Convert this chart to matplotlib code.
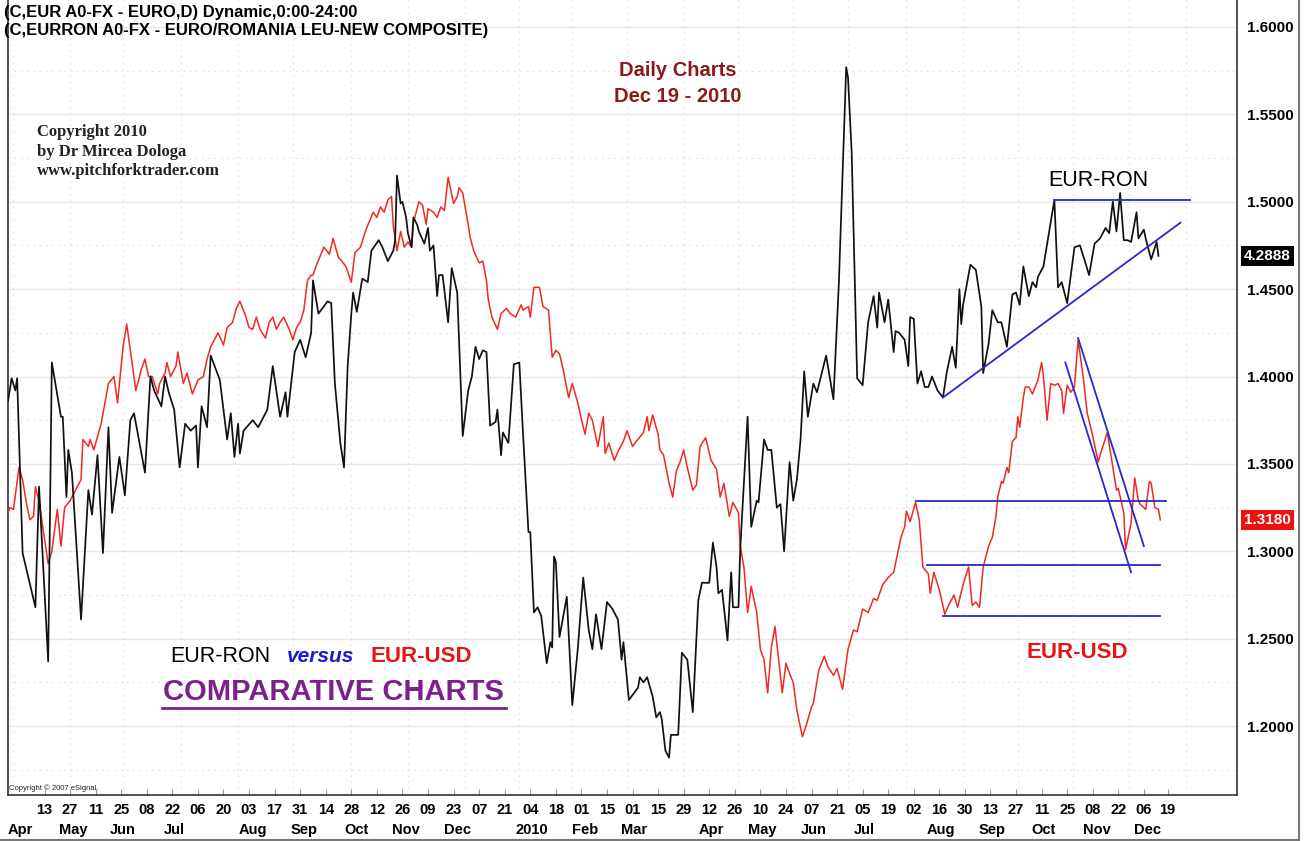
import datetime
import matplotlib
matplotlib.use('Agg')
import matplotlib.pyplot as plt
import matplotlib.transforms as mtransforms
from matplotlib.lines import Line2D

plt.rcParams['font.family'] = ['Liberation Sans', 'DejaVu Sans']

# day offsets counted from Mon 13 Apr 2009
START = datetime.date(2009, 4, 13)

# EUR-RON overlay, drawn on the EUR-USD price scale
ron_days = [-20, -18, -16, -15, -12, -5, -3, 2, 4, 9, 10, 12, 13, 15, 20, 24, 26, 29, 32, 35,
            37, 41, 44, 47, 49, 55, 58, 60, 64, 66, 68, 71, 74, 77, 80, 83, 84, 86, 89, 91,
            96, 100, 102, 104, 106, 107, 109, 114, 117, 122, 125, 129, 132, 133, 137, 140, 143, 146, 147, 150,
            155, 157, 159, 162, 164, 166, 168, 169, 171, 174, 177, 179, 183, 185, 188, 191, 192, 193, 195, 196,
            198, 199, 201, 202, 204, 205, 208, 210, 211, 213, 215, 216, 218, 221, 223, 226, 229, 232, 234, 236,
            238, 240, 242, 244, 247, 248, 250, 251, 254, 257, 260, 262, 265, 266, 268, 270, 272, 275, 277, 278,
            279, 280, 282, 286, 289, 292, 295, 298, 300, 302, 305, 308, 311, 314, 316, 317, 320, 325, 326, 328,
            330, 333, 335, 337, 338, 340, 342, 343, 347, 349, 352, 355, 358, 360, 364, 366, 368, 369, 371, 374,
            376, 377, 380, 381, 385, 387, 390, 391, 394, 396, 398, 401, 403, 405, 408, 410, 412, 414, 416, 418,
            421, 423, 428, 432, 435, 439, 440, 442, 445, 448, 451, 454, 456, 457, 460, 462, 465, 466, 468, 471,
            473, 474, 476, 478, 480, 482, 484, 486, 489, 492, 494, 497, 499, 501, 502, 503, 507, 510, 513, 514,
            517, 519, 522, 524, 527, 530, 532, 534, 536, 539, 541, 543, 544, 547, 553, 555, 557, 560, 564, 567,
            570, 572, 575, 578, 581, 583, 585, 587, 589, 591, 593, 595, 598, 599, 602, 603, 606, 609, 610]
ron_vals = [1.386, 1.399, 1.392, 1.399, 1.299, 1.268, 1.337, 1.237, 1.408, 1.377, 1.377, 1.331, 1.358, 1.345, 1.261, 1.335, 1.321, 1.355, 1.299, 1.371,
            1.322, 1.354, 1.332, 1.375, 1.379, 1.345, 1.400, 1.392, 1.383, 1.400, 1.391, 1.381, 1.348, 1.373, 1.369, 1.372, 1.348, 1.383, 1.371, 1.412,
            1.398, 1.364, 1.379, 1.354, 1.373, 1.356, 1.369, 1.375, 1.371, 1.381, 1.406, 1.377, 1.391, 1.377, 1.414, 1.421, 1.411, 1.425, 1.455, 1.436,
            1.443, 1.442, 1.396, 1.362, 1.348, 1.406, 1.436, 1.448, 1.437, 1.456, 1.454, 1.472, 1.478, 1.474, 1.466, 1.472, 1.478, 1.515, 1.499, 1.500,
            1.491, 1.482, 1.474, 1.491, 1.487, 1.483, 1.476, 1.485, 1.472, 1.475, 1.446, 1.458, 1.458, 1.431, 1.462, 1.448, 1.366, 1.392, 1.400, 1.417,
            1.410, 1.415, 1.414, 1.372, 1.374, 1.381, 1.355, 1.368, 1.362, 1.407, 1.408, 1.368, 1.311, 1.311, 1.265, 1.268, 1.263, 1.236, 1.248, 1.245,
            1.297, 1.294, 1.251, 1.274, 1.212, 1.244, 1.285, 1.255, 1.244, 1.264, 1.244, 1.271, 1.267, 1.261, 1.238, 1.248, 1.215, 1.222, 1.228, 1.225,
            1.228, 1.217, 1.205, 1.208, 1.204, 1.186, 1.182, 1.195, 1.195, 1.242, 1.238, 1.208, 1.272, 1.282, 1.282, 1.305, 1.291, 1.276, 1.278, 1.249,
            1.288, 1.268, 1.268, 1.302, 1.377, 1.314, 1.329, 1.328, 1.364, 1.358, 1.358, 1.325, 1.327, 1.300, 1.351, 1.329, 1.341, 1.364, 1.403, 1.377,
            1.396, 1.391, 1.412, 1.387, 1.454, 1.577, 1.571, 1.528, 1.399, 1.395, 1.431, 1.446, 1.428, 1.448, 1.431, 1.444, 1.414, 1.426, 1.425, 1.421,
            1.406, 1.434, 1.433, 1.396, 1.403, 1.394, 1.394, 1.400, 1.392, 1.388, 1.402, 1.417, 1.405, 1.450, 1.430, 1.441, 1.464, 1.461, 1.440, 1.402,
            1.419, 1.438, 1.431, 1.431, 1.417, 1.447, 1.448, 1.441, 1.463, 1.446, 1.454, 1.451, 1.457, 1.463, 1.501, 1.451, 1.454, 1.442, 1.474, 1.475,
            1.465, 1.458, 1.476, 1.479, 1.485, 1.482, 1.500, 1.483, 1.505, 1.478, 1.478, 1.477, 1.494, 1.479, 1.484, 1.479, 1.467, 1.477, 1.469]
ron_last_quote = 4.2888

# EUR-USD
usd_days = [-20, -19, -17, -14, -12, -10, -8, -6, -5, -3, 0, 2, 4, 7, 9, 11, 14, 17, 20, 21,
            24, 25, 27, 31, 35, 38, 40, 43, 45, 47, 50, 53, 55, 57, 59, 62, 63, 66, 67, 69,
            72, 73, 76, 78, 81, 84, 87, 89, 91, 93, 95, 98, 100, 103, 105, 107, 110, 112, 114, 116,
            118, 121, 123, 125, 127, 129, 131, 134, 136, 138, 140, 142, 144, 146, 147, 149, 153, 156, 158, 161,
            162, 165, 168, 170, 173, 176, 180, 182, 184, 186, 188, 190, 191, 193, 195, 197, 199, 201, 202, 205,
            207, 209, 210, 213, 215, 217, 219, 221, 224, 226, 227, 229, 232, 233, 235, 238, 240, 242, 243, 245,
            248, 250, 253, 255, 258, 261, 262, 265, 266, 268, 271, 273, 276, 278, 280, 282, 284, 287, 289, 292,
            295, 296, 298, 300, 303, 306, 307, 309, 312, 314, 317, 319, 322, 324, 325, 328, 330, 331, 333, 336,
            337, 339, 342, 344, 346, 348, 350, 352, 355, 357, 359, 362, 365, 368, 370, 372, 375, 377, 380, 381,
            383, 385, 387, 390, 392, 394, 396, 398, 400, 402, 404, 406, 408, 410, 412, 415, 417, 420, 421, 424,
            427, 429, 432, 434, 437, 440, 443, 445, 448, 451, 454, 456, 459, 462, 465, 467, 469, 471, 472, 474,
            477, 479, 481, 484, 485, 487, 490, 493, 495, 498, 500, 503, 506, 508, 510, 512, 514, 517, 519, 521,
            522, 524, 525, 527, 528, 530, 532, 533, 534, 536, 537, 539, 541, 544, 546, 547, 549, 551, 553, 555,
            557, 558, 560, 562, 564, 566, 569, 571, 574, 577, 578, 582, 585, 587, 588, 591, 592, 595, 597, 599,
            600, 603, 605, 606, 608, 610, 611]
usd_vals = [1.322, 1.325, 1.324, 1.348, 1.341, 1.328, 1.318, 1.320, 1.337, 1.329, 1.307, 1.293, 1.300, 1.324, 1.303, 1.325, 1.329, 1.335, 1.341, 1.364,
            1.360, 1.364, 1.358, 1.373, 1.396, 1.400, 1.385, 1.417, 1.430, 1.415, 1.392, 1.404, 1.410, 1.400, 1.400, 1.390, 1.396, 1.402, 1.408, 1.400,
            1.406, 1.414, 1.396, 1.402, 1.390, 1.398, 1.400, 1.410, 1.417, 1.421, 1.425, 1.418, 1.428, 1.431, 1.439, 1.443, 1.435, 1.428, 1.427, 1.434,
            1.427, 1.422, 1.431, 1.434, 1.427, 1.431, 1.434, 1.427, 1.421, 1.428, 1.431, 1.438, 1.455, 1.458, 1.458, 1.464, 1.474, 1.470, 1.479, 1.468,
            1.467, 1.463, 1.454, 1.471, 1.474, 1.484, 1.494, 1.491, 1.497, 1.494, 1.501, 1.503, 1.486, 1.472, 1.483, 1.474, 1.477, 1.474, 1.488, 1.500,
            1.498, 1.487, 1.496, 1.494, 1.491, 1.497, 1.495, 1.514, 1.499, 1.503, 1.508, 1.505, 1.487, 1.480, 1.472, 1.465, 1.466, 1.455, 1.444, 1.434,
            1.427, 1.436, 1.439, 1.436, 1.434, 1.441, 1.438, 1.440, 1.434, 1.451, 1.451, 1.440, 1.438, 1.411, 1.415, 1.413, 1.404, 1.388, 1.396, 1.385,
            1.371, 1.367, 1.379, 1.375, 1.360, 1.377, 1.356, 1.362, 1.352, 1.357, 1.363, 1.369, 1.360, 1.363, 1.364, 1.368, 1.377, 1.369, 1.378, 1.367,
            1.358, 1.355, 1.339, 1.331, 1.346, 1.351, 1.358, 1.348, 1.335, 1.338, 1.360, 1.365, 1.352, 1.347, 1.331, 1.339, 1.320, 1.328, 1.322, 1.303,
            1.291, 1.265, 1.280, 1.265, 1.244, 1.238, 1.219, 1.245, 1.257, 1.238, 1.219, 1.236, 1.230, 1.225, 1.209, 1.194, 1.200, 1.211, 1.213, 1.232,
            1.240, 1.234, 1.229, 1.233, 1.221, 1.244, 1.255, 1.254, 1.267, 1.265, 1.273, 1.272, 1.281, 1.285, 1.288, 1.298, 1.308, 1.314, 1.323, 1.317,
            1.328, 1.318, 1.291, 1.287, 1.276, 1.288, 1.278, 1.264, 1.269, 1.275, 1.268, 1.281, 1.291, 1.269, 1.271, 1.268, 1.291, 1.303, 1.308, 1.320,
            1.331, 1.340, 1.339, 1.348, 1.345, 1.363, 1.365, 1.377, 1.371, 1.388, 1.394, 1.394, 1.390, 1.398, 1.408, 1.400, 1.375, 1.396, 1.395, 1.396,
            1.392, 1.379, 1.395, 1.391, 1.394, 1.421, 1.398, 1.379, 1.366, 1.351, 1.355, 1.368, 1.348, 1.335, 1.336, 1.322, 1.301, 1.316, 1.342, 1.329,
            1.327, 1.324, 1.340, 1.339, 1.325, 1.324, 1.318]

# hand-drawn blue study lines: (day0, price0, day1, price1)
study_lines = [
    (553, 1.501, 627, 1.501),   # EUR-RON resistance
    (492, 1.388, 622, 1.488),   # EUR-RON rising trendline
    (559, 1.408, 595, 1.288),   # EUR-USD down channel
    (566, 1.422, 602, 1.303),
    (477, 1.329, 614, 1.329),   # EUR-USD horizontals
    (483, 1.292, 611, 1.292),
    (492, 1.263, 611, 1.263),
]

price_ticks = [1.20, 1.25, 1.30, 1.35, 1.40, 1.45, 1.50, 1.55, 1.60]
tick_days = list(range(0, 603, 14)) + [615]
month_names = ['Apr', 'May', 'Jun', 'Jul', 'Aug', 'Sep', 'Oct', 'Nov', 'Dec', '2010', 'Feb',
               'Mar', 'Apr', 'May', 'Jun', 'Jul', 'Aug', 'Sep', 'Oct', 'Nov', 'Dec']
month_days = [-13, 16, 43, 71, 114, 142, 171, 198, 226, 267, 296,
              323, 365, 393, 421, 449, 491, 519, 547, 576, 604]
vgrid_days = [-17, 14, 43, 75, 106, 136, 168, 199, 230, 260, 289,
              319, 350, 380, 410, 440, 472, 503, 533, 563, 594, 625]


def to_date(d):
    return START + datetime.timedelta(days=d)


W, H = 1309, 841
fig = plt.figure(figsize=(W / 100, H / 100), dpi=100)
ax = fig.add_axes([8 / W, 46 / H, 1229 / W, 795 / H])

ax.set_xlim(to_date(-19.7), to_date(653.5))
ax.set_ylim(1.1606, 1.6154)

# grid
for p in price_ticks:
    ax.axhline(p, color='#e8e8e8', lw=1, zorder=0)
    ax.axhline(p - 0.025, color='#dcdcdc', lw=0.9, ls=(0, (1, 4)), zorder=0)
for d in vgrid_days:
    ax.axvline(to_date(d), color='#dcdcdc', lw=0.9, ls=(0, (1, 4)), zorder=0)

ax.plot([to_date(d) for d in usd_days], usd_vals, color='#ee2a24', lw=1.1, zorder=3)
ax.plot([to_date(d) for d in ron_days], ron_vals, color='#111111', lw=1.25, zorder=4)

for d0, p0, d1, p1 in study_lines:
    ax.plot([to_date(d0), to_date(d1)], [p0, p1], color='#2828cc', lw=1.3, zorder=5)

# axes cosmetics
ax.spines['top'].set_visible(False)
for s in ['left', 'right', 'bottom']:
    ax.spines[s].set_color('#333333')
    ax.spines[s].set_linewidth(1.2)

ax.yaxis.tick_right()
ax.set_yticks(price_ticks)
ax.set_yticklabels([f'{p:.4f}' for p in price_ticks], fontsize=11, fontweight='bold')
ax.tick_params(axis='y', length=0, pad=7)

ax.set_xticks([to_date(d) for d in tick_days])
ax.set_xticklabels([to_date(d).strftime('%d') for d in tick_days], fontsize=10.5, fontweight='bold')
ax.tick_params(axis='x', direction='in', length=4, color='#999999', pad=6)

xt = mtransforms.blended_transform_factory(ax.transData, ax.transAxes)
for name, d in zip(month_names, month_days):
    ax.text(to_date(d), -35 / 795, name, transform=xt, ha='center', va='center',
            fontsize=10.5, fontweight='bold')

# last-value boxes on the price scale
yt = mtransforms.blended_transform_factory(ax.transAxes, ax.transData)
ax.text(1 + 7 / 1229, ron_vals[-1], f'{ron_last_quote:.4f}', transform=yt, ha='left', va='center',
        fontsize=11, fontweight='bold', color='white',
        bbox=dict(facecolor='black', edgecolor='none', boxstyle='square,pad=0.2'))
ax.text(1 + 7 / 1229, usd_vals[-1], f'{usd_vals[-1]:.4f}', transform=yt, ha='left', va='center',
        fontsize=11, fontweight='bold', color='white',
        bbox=dict(facecolor='#ee1111', edgecolor='none', boxstyle='square,pad=0.2'))


def ftext(x, y, s, **kw):
    fig.text(x / W, 1 - y / H, s, **kw)


ftext(4, 12, '(C,EUR A0-FX - EURO,D) Dynamic,0:00-24:00', fontsize=12, fontweight='bold', va='center')
ftext(4, 31, '(C,EURRON A0-FX - EURO/ROMANIA LEU-NEW COMPOSITE)', fontsize=12, fontweight='bold', va='center')

ftext(678, 70, 'Daily Charts', fontsize=14.5, fontweight='bold', color='#8b1a1a', ha='center', va='center')
ftext(678, 96, 'Dec 19 - 2010', fontsize=14.5, fontweight='bold', color='#8b1a1a', ha='center', va='center')

for i, line in enumerate(['Copyright 2010', 'by Dr Mircea Dologa', 'www.pitchforktrader.com']):
    ftext(37, 132 + i * 19.5, line, family='Liberation Serif', fontsize=12, fontweight='bold',
          color='#222222', va='center')

ftext(1098, 180, 'EUR-RON', fontsize=15.5, color='black', ha='center', va='center')
ftext(1077, 652, 'EUR-USD', fontsize=16, fontweight='bold', color='#e51515', ha='center', va='center')

ftext(220, 656, 'EUR-RON', fontsize=15.5, color='black', ha='center', va='center')
ftext(321, 656, 'versus', fontsize=15, fontweight='bold', style='italic', color='#1a1ad0', ha='center', va='center')
ftext(421, 656, 'EUR-USD', fontsize=16, fontweight='bold', color='#e51515', ha='center', va='center')
ftext(333, 692, 'COMPARATIVE CHARTS', fontsize=21, fontweight='bold', color='#7d1f8c', ha='center', va='center')
fig.add_artist(Line2D([162 / W, 506 / W], [1 - 708 / H, 1 - 708 / H], transform=fig.transFigure,
                      color='#7d1f8c', lw=2))

ftext(9, 788, 'Copyright \u00a9 2007 eSignal.', fontsize=5.5, color='#222222', va='center')

# outer frame of the price scale / date panel
fig.add_artist(Line2D([1299 / W, 1299 / W], [0, 1], transform=fig.transFigure, color='#777777', lw=1.5))
fig.add_artist(Line2D([0, 1299 / W], [1.5 / H, 1.5 / H], transform=fig.transFigure, color='#777777', lw=1.5))

fig.savefig('out.png', dpi=100)
